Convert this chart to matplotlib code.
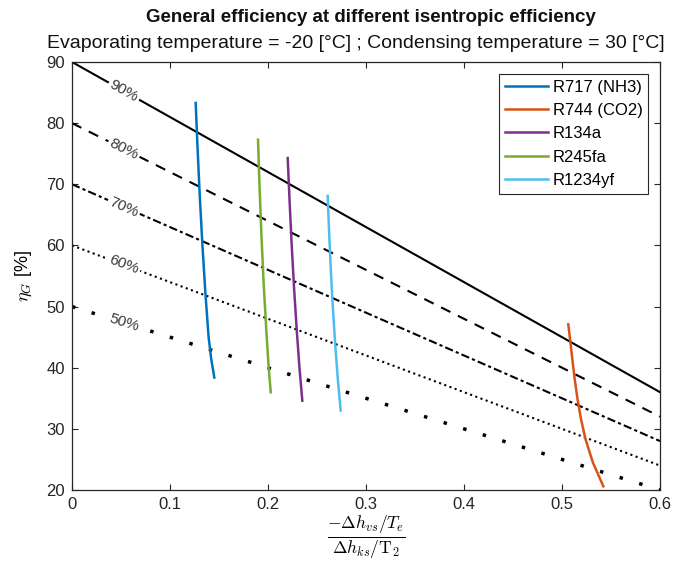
import numpy as np
import matplotlib
matplotlib.use('Agg')
import matplotlib.pyplot as plt

plt.rcParams['font.family'] = ['Liberation Sans', 'DejaVu Sans']
plt.rcParams['mathtext.fontset'] = 'cm'

# isentropic efficiency lines (straight lines, end points)
eta_s = [90, 80, 70, 60, 50]
line_x = [0.0, 0.6]
line_y = [[90, 36], [80, 32], [70, 28], [60, 24], [50, 20]]
eta_labels = ['90%', '80%', '70%', '60%', '50%']

# refrigerants
names = ['R717 (NH3)', 'R744 (CO2)', 'R134a', 'R245fa', 'R1234yf']
r717_x = [0.1262, 0.1281, 0.1304, 0.1331, 0.1362, 0.1394, 0.1420, 0.1452]
r717_y = [83.3, 76.0, 68.0, 60.0, 52.0, 45.0, 41.5, 38.4]
r744_x = [0.5064, 0.5085, 0.5108, 0.5130, 0.5157, 0.5195, 0.5240, 0.5315, 0.5422]
r744_y = [47.1, 44.3, 41.0, 38.1, 35.0, 31.5, 28.3, 24.5, 20.6]
r134a_x = [0.2201, 0.2221, 0.2242, 0.2266, 0.2294, 0.2321, 0.2350]
r134a_y = [74.3, 67.0, 60.0, 53.0, 46.0, 40.0, 34.6]
r245fa_x = [0.1898, 0.1913, 0.1932, 0.1955, 0.1983, 0.2007, 0.2028]
r245fa_y = [77.3, 70.0, 62.0, 54.0, 46.0, 40.0, 36.0]
r1234yf_x = [0.2609, 0.2624, 0.2641, 0.2661, 0.2685, 0.2713, 0.2742]
r1234yf_y = [68.1, 62.0, 56.0, 50.0, 44.0, 38.0, 33.0]

colors = ['#0072BD', '#D95319', '#7E2F8E', '#77AC30', '#4DBEEE']
styles = ['-', (0, (5, 4)), (0, (4, 1.5, 1.5, 1.5)), (0, (1, 1.65)), (0, (1, 4.9))]
widths = [1.5, 1.5, 1.5, 1.5, 2.5]

fig = plt.figure(figsize=(6.79, 5.67), dpi=100)
ax = fig.add_axes([72/679, 77/567, 588/679, 428/567])

for i in range(len(eta_s)):
    ax.plot(line_x, line_y[i], color='k', linestyle=styles[i], linewidth=widths[i],
            dash_capstyle='butt', zorder=2)
    # contour-style label on the line
    lx = 0.053
    ly = line_y[i][0] + (line_y[i][1] - line_y[i][0]) * (lx - line_x[0]) / (line_x[1] - line_x[0])
    ang = np.degrees(np.arctan2(line_y[i][1] - line_y[i][0], line_x[1] - line_x[0]))
    ax.text(lx, ly, eta_labels[i], rotation=ang, transform_rotates_text=True,
            rotation_mode='anchor', ha='center', va='center', fontsize=11, color='#3a3a3a',
            bbox=dict(facecolor='white', edgecolor='none', pad=1.5), zorder=3)

xs = [r717_x, r744_x, r134a_x, r245fa_x, r1234yf_x]
ys = [r717_y, r744_y, r134a_y, r245fa_y, r1234yf_y]
for i in range(len(names)):
    ax.plot(xs[i], ys[i], color=colors[i], linewidth=1.8, label=names[i], zorder=4,
            solid_joinstyle='round')

ax.set_xlim(0, 0.6)
ax.set_ylim(20, 90)
ax.set_xticks(np.arange(0, 0.61, 0.1))
ax.set_xticklabels(['0', '0.1', '0.2', '0.3', '0.4', '0.5', '0.6'])
ax.set_yticks(np.arange(20, 91, 10))
ax.tick_params(direction='in', top=True, right=True, length=4, width=0.8,
               labelsize=12, colors='#262626', pad=5)
for s in ax.spines.values():
    s.set_linewidth(0.9)
    s.set_color('#262626')

ax.set_xlabel(r'$\frac{-\Delta h_{vs}/T_e}{\Delta h_{ks}/\mathrm{T}_2}$', fontsize=18, labelpad=1)
ax.set_ylabel(r'$\eta_G$ [%]', fontsize=13, labelpad=9)

fig.text(371/679, 1 - 17/567, 'General efficiency at different isentropic efficiency',
         ha='center', va='center', fontsize=13.5, fontweight='bold', color='#111111')
fig.text(356/679, 1 - 44/567, 'Evaporating temperature = -20 [°C] ; Condensing temperature = 30 [°C]',
         ha='center', va='center', fontsize=14, color='#111111')

leg = ax.legend(loc='upper right', fontsize=12, fancybox=False, edgecolor='#262626',
                framealpha=1, handlelength=2.6, handletextpad=0.25, borderaxespad=0.7,
                labelspacing=0.5, borderpad=0.35)
leg.get_frame().set_linewidth(0.8)

fig.savefig('out.png', dpi=100)
